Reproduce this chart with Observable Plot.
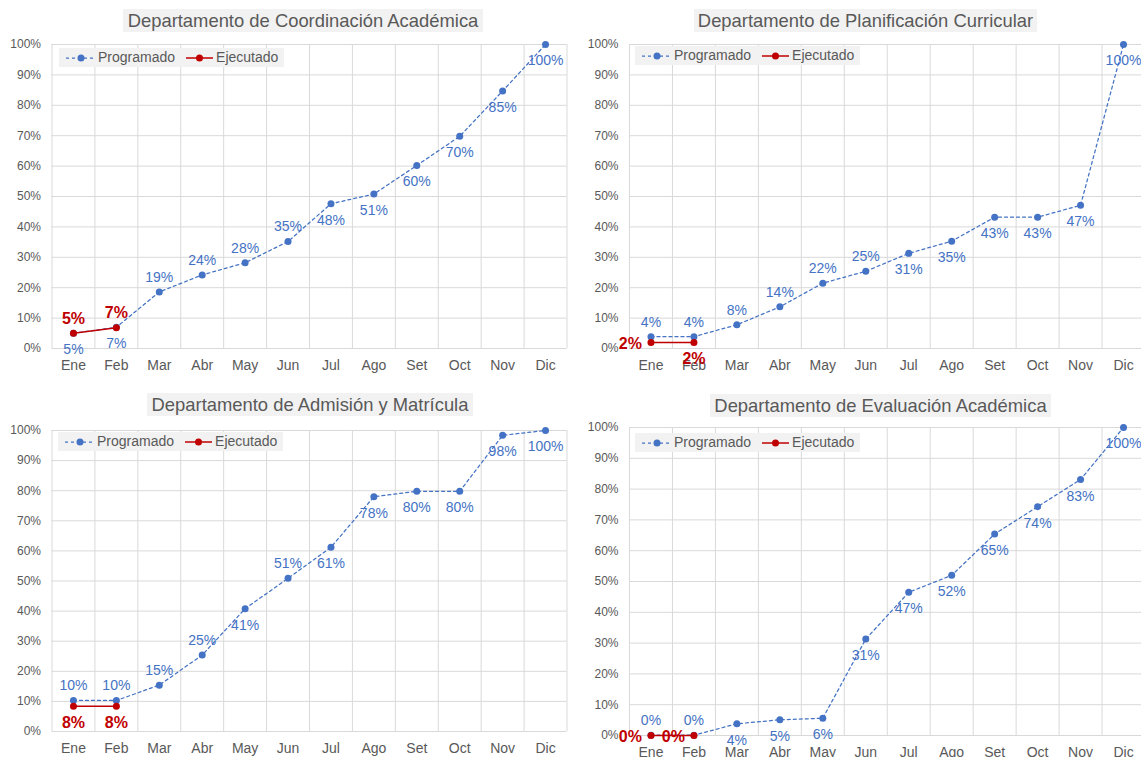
<!DOCTYPE html>
<html><head><meta charset="utf-8">
<script src="https://cdn.jsdelivr.net/npm/d3@7"></script>
<script src="https://cdn.jsdelivr.net/npm/@observablehq/plot@0.6"></script>
<style>
body{margin:0;background:#fff;overflow:hidden;font-family:"Liberation Sans",Arial,sans-serif;}
#root{position:relative;width:1141px;height:757px;overflow:hidden;}
.pl{position:absolute;width:600px;}
.pl svg{max-width:none !important;}
.title{position:absolute;background:#f2f2f2;color:#595959;font-size:18.4px;text-align:center;line-height:23px;height:23px;white-space:nowrap;}
.legend{position:absolute;background:#f2f2f2;color:#595959;font-size:14px;height:19px;line-height:19px;display:flex;align-items:center;white-space:nowrap;padding:0 6px 0 7px;}
.legend svg{display:block;}
</style></head><body><div id="root"></div><script>
const months = ["Ene","Feb","Mar","Abr","May","Jun","Jul","Ago","Set","Oct","Nov","Dic"];
const seriesNames = ["Programado", "Ejecutado"];
const yTicks = [0,10,20,30,40,50,60,70,80,90,100];

const title1 = "Departamento de Coordinación Académica";
const prog1 = [5, 7, 18.6, 24.2, 28.2, 35.2, 47.6, 50.8, 60.2, 69.8, 84.7, 100];
const ejec1 = [5, 6.8];

const title2 = "Departamento de Planificación Curricular";
const prog2 = [3.9, 3.9, 7.8, 13.7, 21.5, 25.4, 31.3, 35.3, 43.2, 43.2, 47.1, 100];
const ejec2 = [2.0, 2.0];

const title3 = "Departamento de Admisión y Matrícula";
const prog3 = [10.3, 10.3, 15.4, 25.4, 40.8, 50.9, 61.2, 78.0, 79.8, 79.8, 98.4, 100];
const ejec3 = [8.4, 8.4];

const title4 = "Departamento de Evaluación Académica";
const prog4 = [0.1, 0.1, 3.8, 5.1, 5.6, 31.3, 46.5, 52.0, 65.4, 74.3, 83.1, 100];
const ejec4 = [0, 0];

const BLUE = "#4472C4", RED = "#C00000", GRID = "#d9d9d9", TXT = "#595959";

const panels = [
  {title: title1, prog: prog1, ejec: ejec1,
   progPos: ["below","below","above","above","above","above","below","below","below","below","below","below"],
   ejecPos: ["above","above"],
   left: 0, top: 0, w: 570, h: 380, mL: 51.5, mR: 3.5, mT: 44, mB: 32,
   tLeft: 123, tTop: 9, tW: 360, lgLeft: 59, lgTop: 48},
  {title: title2, prog: prog2, ejec: ejec2,
   progPos: ["above","above","above","above","above","above","below","below","below","below","below","below"],
   ejecPos: ["left","below"],
   left: 570, top: 0, w: 580, h: 380, mL: 59, mR: 5.5, mT: 44, mB: 32,
   tLeft: 694, tTop: 9, tW: 343, lgLeft: 635, lgTop: 46},
  {title: title3, prog: prog3, ejec: ejec3,
   progPos: ["above","above","above","above","below","above","below","below","below","below","below","below"],
   ejecPos: ["below","below"],
   left: 0, top: 380, w: 570, h: 377, mL: 51.5, mR: 3.5, mT: 50, mB: 26,
   tLeft: 147, tTop: 393, tW: 326, lgLeft: 58, lgTop: 432},
  {title: title4, prog: prog4, ejec: ejec4,
   progPos: ["above","above","below","below","below","below","below","below","below","below","below","below"],
   ejecPos: ["left","left"],
   left: 570, top: 380, w: 580, h: 390, mL: 59, mR: 5.5, mT: 47, mB: 35,
   tLeft: 710, tTop: 394, tW: 341, lgLeft: 635, lgTop: 433}
];

const root = document.getElementById("root");
const pct = v => Math.round(v) + "%";
const offs = {above: {dx: 0, dy: -14.5, textAnchor: "middle"},
              below: {dx: 0, dy: 16.5, textAnchor: "middle"},
              left: {dx: -9, dy: 1, textAnchor: "end"}};

function labelMarks(data, fill, fontSize, fontWeight) {
  return Object.keys(offs).map(p => Plot.text(data.filter(d => d.pos === p), {
    x: "i", y: "v", text: d => pct(d.v), fill, fontSize, fontWeight, ...offs[p]
  }));
}

for (const c of panels) {
  const prog = c.prog.map((v, i) => ({i, v, pos: c.progPos[i]}));
  const ejec = c.ejec.map((v, i) => ({i, v, pos: c.ejecPos[i]}));
  const edges = d3.range(months.length + 1).map(k => k - 0.5);
  const chart = Plot.plot({
    width: c.w, height: c.h,
    marginLeft: c.mL, marginRight: c.mR, marginTop: c.mT, marginBottom: c.mB,
    style: {fontFamily: "'Liberation Sans', Arial, sans-serif", background: "transparent", overflow: "visible", maxWidth: "none"},
    x: {domain: [-0.5, months.length - 0.5], axis: null},
    y: {domain: [0, 100], axis: null},
    marks: [
      Plot.ruleY(yTicks, {y: d => d, stroke: GRID, strokeWidth: 1}),
      Plot.ruleX(edges, {x: d => d, stroke: GRID, strokeWidth: 1}),
      Plot.text(yTicks, {x: () => -0.5, y: d => d, text: d => d + "%", dx: -11, textAnchor: "end", fill: TXT, fontSize: 12}),
      Plot.text(months, {x: (d, i) => i, y: () => 0, text: d => d, dy: 17, fill: TXT, fontSize: 14}),
      Plot.line(prog, {x: "i", y: "v", stroke: BLUE, strokeWidth: 1.25, strokeDasharray: "3,3"}),
      Plot.dot(prog, {x: "i", y: "v", r: 3.5, fill: BLUE}),
      ...labelMarks(prog, BLUE, 14, "normal"),
      Plot.line(ejec, {x: "i", y: "v", stroke: RED, strokeWidth: 1.5}),
      Plot.dot(ejec, {x: "i", y: "v", r: 3.5, fill: RED}),
      ...labelMarks(ejec, RED, 16, "bold")
    ]
  });
  const wrap = document.createElement("div");
  wrap.className = "pl";
  wrap.style.left = c.left + "px";
  wrap.style.top = c.top + "px";
  wrap.appendChild(chart);
  root.appendChild(wrap);

  const t = document.createElement("div");
  t.className = "title";
  t.style.left = c.tLeft + "px";
  t.style.top = c.tTop + "px";
  t.style.width = c.tW + "px";
  t.textContent = c.title;
  root.appendChild(t);

  const lg = document.createElement("div");
  lg.className = "legend";
  lg.style.left = c.lgLeft + "px";
  lg.style.top = c.lgTop + "px";
  lg.innerHTML =
    `<svg width="30" height="10"><line x1="0" x2="30" y1="5" y2="5" stroke="${BLUE}" stroke-width="1.25" stroke-dasharray="3,3"/><circle cx="15" cy="5" r="3.5" fill="${BLUE}"/></svg>` +
    `<span style="margin-left:2px">${seriesNames[0]}</span>` +
    `<svg width="27" height="10" style="margin-left:11px"><line x1="0" x2="27" y1="5" y2="5" stroke="${RED}" stroke-width="1.5"/><circle cx="13.5" cy="5" r="3.5" fill="${RED}"/></svg>` +
    `<span style="margin-left:3px">${seriesNames[1]}</span>`;
  root.appendChild(lg);
}
</script></body></html>
